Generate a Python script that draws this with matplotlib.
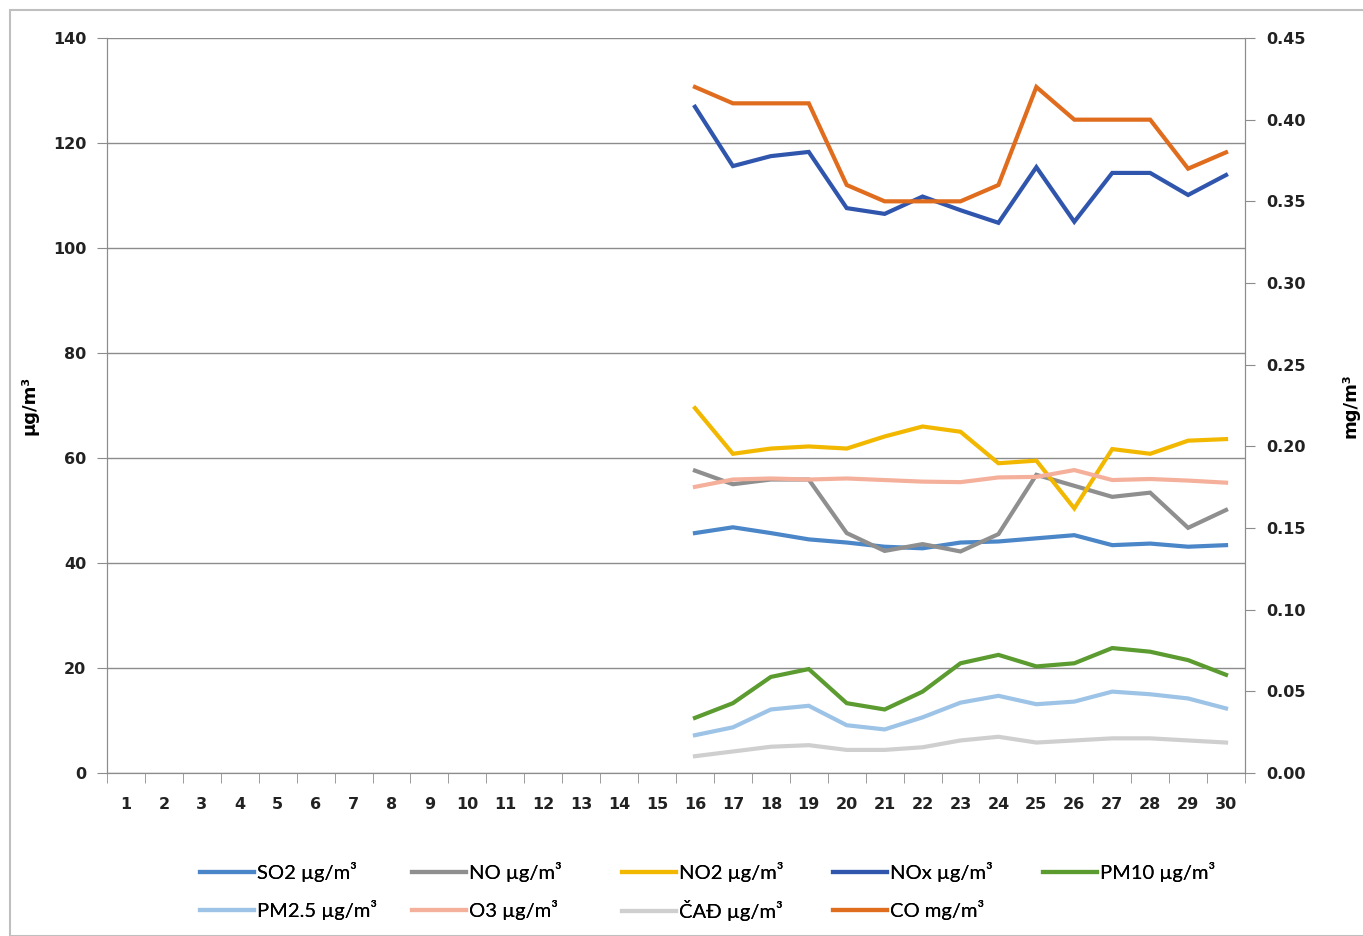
import matplotlib
matplotlib.use('Agg')
import matplotlib.pyplot as plt
import matplotlib.patches as patches
import numpy as np

# days of the month, measurements only exist from day 16
days = list(range(1, 31))
meas_days = list(range(16, 31))

so2 = [45.7, 46.8, 45.7, 44.5, 43.9, 43.1, 42.8, 43.9, 44.1, 44.7, 45.3, 43.4, 43.7, 43.1, 43.4]
no = [57.6, 55.0, 55.9, 55.9, 45.7, 42.3, 43.6, 42.2, 45.5, 56.8, 54.7, 52.6, 53.4, 46.7, 50.1]
no2 = [69.5, 60.8, 61.8, 62.2, 61.8, 64.1, 66.0, 65.0, 59.0, 59.5, 50.4, 61.7, 60.8, 63.3, 63.6]
nox = [126.9, 115.6, 117.5, 118.3, 107.6, 106.5, 109.8, 107.2, 104.8, 115.4, 105.0, 114.3, 114.3, 110.1, 113.9]
pm10 = [10.5, 13.3, 18.3, 19.8, 13.3, 12.1, 15.5, 20.9, 22.5, 20.3, 20.9, 23.8, 23.1, 21.5, 18.7]
pm25 = [7.2, 8.7, 12.1, 12.8, 9.1, 8.3, 10.6, 13.4, 14.7, 13.1, 13.6, 15.5, 15.0, 14.2, 12.3]
o3 = [54.5, 55.9, 56.1, 55.9, 56.1, 55.8, 55.5, 55.4, 56.3, 56.4, 57.7, 55.8, 56.0, 55.7, 55.3]
cad = [3.2, 4.1, 5.0, 5.3, 4.4, 4.4, 4.9, 6.2, 6.9, 5.8, 6.2, 6.6, 6.6, 6.2, 5.8]
co = [0.42, 0.41, 0.41, 0.41, 0.36, 0.35, 0.35, 0.35, 0.36, 0.42, 0.40, 0.40, 0.40, 0.37, 0.38]

left_series = [
    ('SO2 µg/m³', so2, '#4a86c8'),
    ('NO µg/m³', no, '#8f8f8f'),
    ('NO2 µg/m³', no2, '#f2b800'),
    ('NOx µg/m³', nox, '#2f55ad'),
    ('PM10 µg/m³', pm10, '#5b9b30'),
    ('PM2.5 µg/m³', pm25, '#9dc3e6'),
    ('O3 µg/m³', o3, '#f5b09c'),
    ('ČAĐ µg/m³', cad, '#cfcfcf'),
]

fig = plt.figure(figsize=(13.63, 9.36), dpi=100)
ax = fig.add_axes([107/1363, 1-773/936, (1245-107)/1363, (773-38)/936])
ax2 = ax.twinx()

lines = {}
for name, vals, col in left_series:
    l, = ax.plot(meas_days, vals, color=col, lw=3, solid_joinstyle='miter', zorder=3)
    lines[name] = l
l, = ax2.plot(meas_days, co, color='#e06c1e', lw=3, solid_joinstyle='miter', zorder=3)
lines['CO mg/m³'] = l

grid_col = '#8c8c8c'
ax.set_xlim(0.5, 30.5)
ax.set_ylim(0, 140)
ax.set_yticks(np.arange(0, 141, 20))
ax.yaxis.grid(True, color=grid_col, lw=1)
ax.set_axisbelow(True)
ax2.set_ylim(0, 0.45)
ax2.set_yticks(np.arange(0, 0.451, 0.05))
ax2.set_yticklabels(['%.2f' % v for v in np.arange(0, 0.451, 0.05)])

ax.set_xticks(days)
ax.set_xticks(np.arange(0.5, 31, 1), minor=True)
ax.tick_params(axis='x', which='major', length=0, pad=17)
ax.tick_params(axis='x', which='minor', length=7, color=grid_col)
ax.tick_params(axis='y', length=7, color=grid_col, pad=8)
ax2.tick_params(axis='y', length=7, color=grid_col, pad=8)

for a in (ax, ax2):
    a.spines['top'].set_visible(False)
    for s in ('left', 'right', 'bottom'):
        a.spines[s].set_color(grid_col)

for t in ax.get_xticklabels():
    t.set_fontsize(11.5)
    t.set_fontweight('bold')
    t.set_color('#222222')
for t in ax.get_yticklabels() + ax2.get_yticklabels():
    t.set_fontsize(11.5)
    t.set_fontweight('bold')
    t.set_color('#222222')

ax.set_ylabel('µg/m³', fontsize=13, fontweight='bold', labelpad=10)
ax2.set_ylabel('mg/m³', fontsize=13, fontweight='bold', rotation=90, labelpad=26)

# legend: one small legend per column so the columns are evenly spaced
columns = [['SO2 µg/m³', 'PM2.5 µg/m³'], ['NO µg/m³', 'O3 µg/m³'],
           ['NO2 µg/m³', 'ČAĐ µg/m³'], ['NOx µg/m³', 'CO mg/m³'], ['PM10 µg/m³']]
col_x = [200, 412, 622, 833, 1043]
row1_y = 871
for names, x in zip(columns, col_x):
    leg = fig.legend([lines[k] for k in names], names, loc='upper left',
                     bbox_to_anchor=(x/1363, 1-(row1_y-9)/936), frameon=False,
                     prop={'family': 'Lato', 'size': 14.5}, handlelength=2.7,
                     handletextpad=0.15, borderpad=0, borderaxespad=0,
                     labelspacing=0.88)
    fig.add_artist(leg)

fig.add_artist(patches.Rectangle((10/1363, 0), 1.0, 1-10/936, transform=fig.transFigure,
                                 fill=False, edgecolor='#bfbfbf', lw=1.5))

plt.savefig('out.png', dpi=100)
